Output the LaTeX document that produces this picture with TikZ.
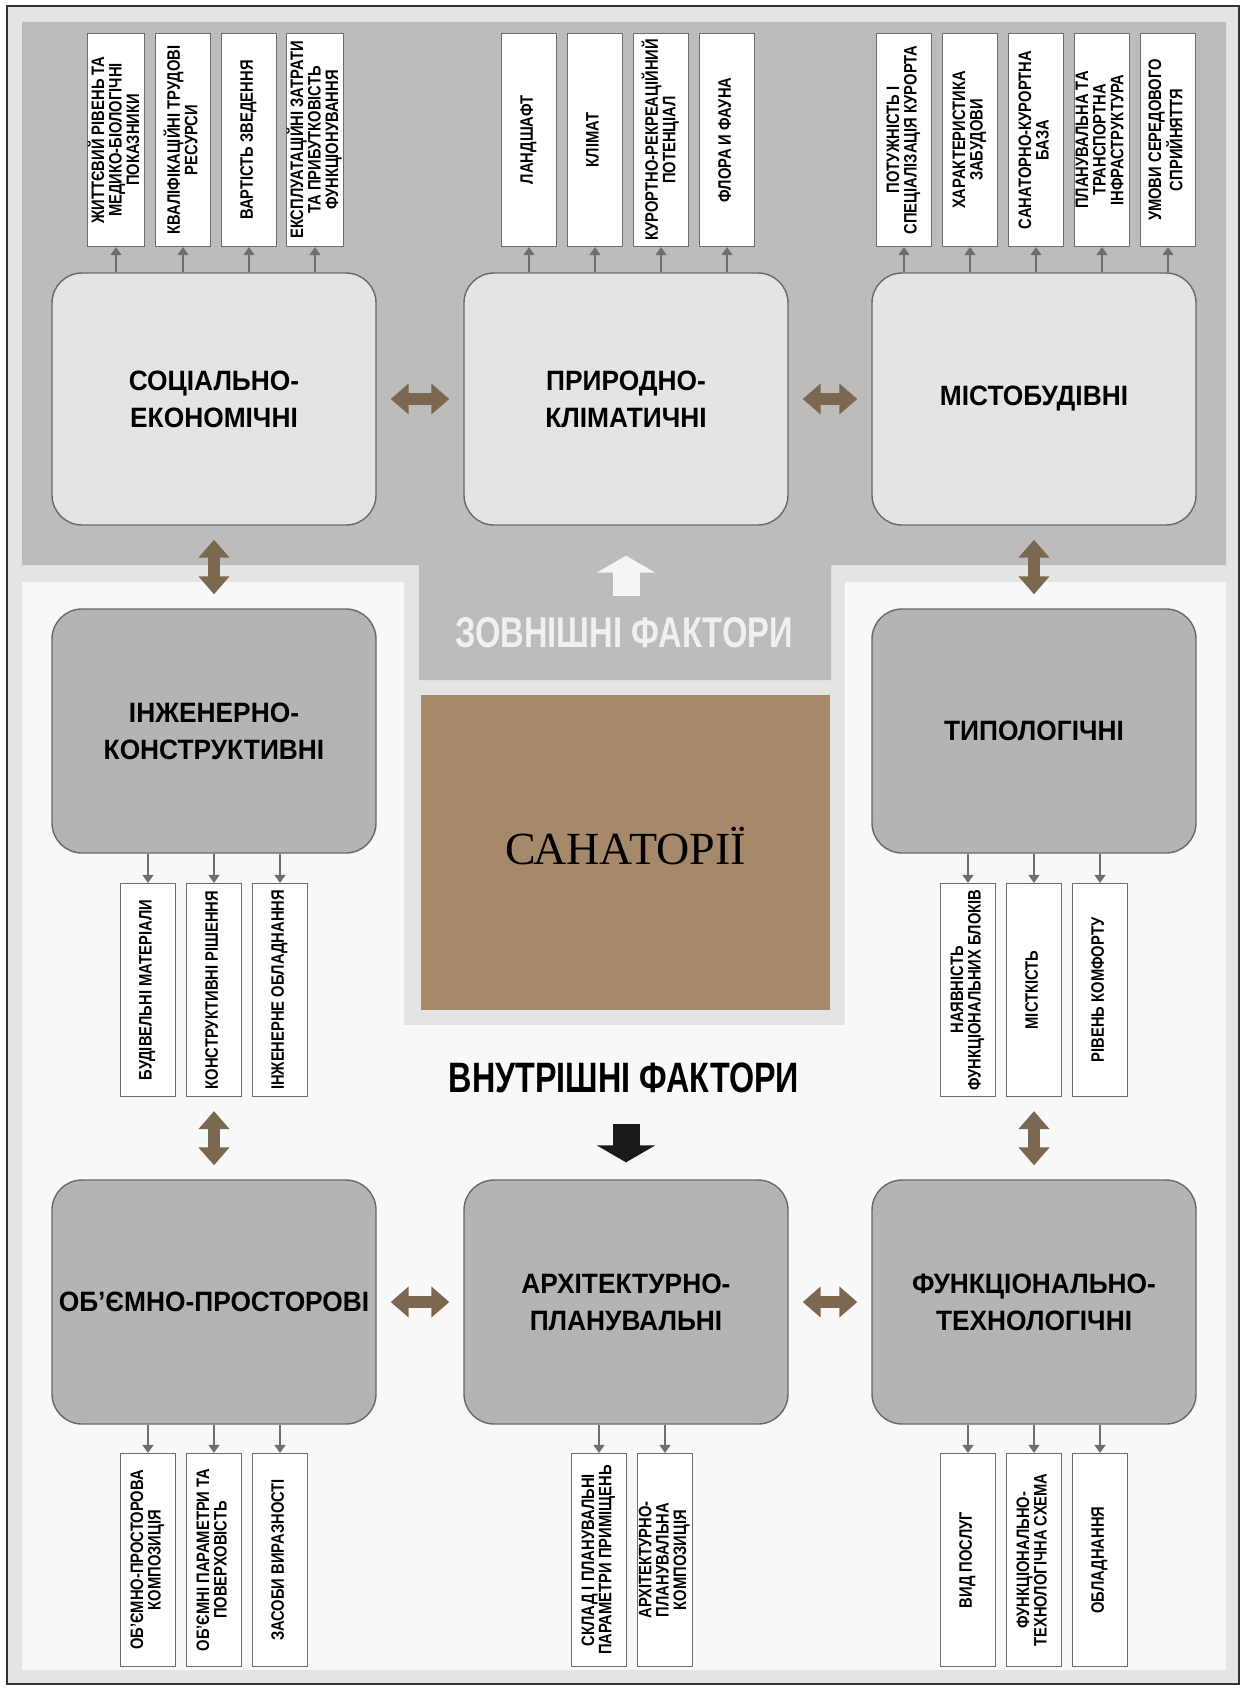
\documentclass[tikz,border=0pt]{standalone}
\usepackage{fontspec}
\usepackage{graphicx}
\usetikzlibrary{arrows.meta}
\setmainfont{Liberation Sans}
\newfontfamily\narrowfont[FakeStretch=0.82]{Liberation Sans}
\newfontfamily\boxfont[FakeStretch=0.94]{Liberation Sans}
\newfontfamily\headfont[FakeStretch=0.76]{Liberation Sans}
\newfontfamily\seriffont{Liberation Serif}
\definecolor{framegray}{RGB}{227,228,228}
\definecolor{extgray}{RGB}{189,188,186}
\definecolor{inwhite}{RGB}{248,248,248}
\definecolor{lightbox}{RGB}{227,228,228}
\definecolor{darkbox}{RGB}{180,180,180}
\definecolor{boxline}{RGB}{105,105,105}
\definecolor{sanbrown}{RGB}{166,136,106}
\definecolor{arrbrown}{RGB}{124,104,80}
\definecolor{arrgray}{RGB}{110,110,110}
\newcommand{\vtext}[1]{\rotatebox{90}{\begin{tabular}{@{}c@{}}#1\end{tabular}}}

\begin{document}
\begin{tikzpicture}[x=1pt,y=-1pt,
  bigbox/.style={draw=boxline,line width=1.4pt,rounded corners=30pt,minimum width=324pt,
    minimum height=252pt,inner sep=2pt,align=center,font=\boxfont\bfseries\fontsize{28}{37}\selectfont},
  extbox/.style={bigbox,fill=lightbox},
  intbox/.style={bigbox,fill=darkbox,minimum height=244pt},
  sbox/.style={draw=arrgray,line width=1.2pt,fill=white,minimum width=55pt,minimum height=213pt,
    inner sep=0pt,font=\narrowfont\bfseries\fontsize{18}{16.5}\selectfont},
  sarr/.style={draw=arrgray,line width=1.2pt,-{Triangle[width=11pt,length=8pt]}},
  dbl/.style={draw=arrbrown,line width=12pt,{Triangle[width=30pt,length=18pt]}-{Triangle[width=30pt,length=18pt]},
    shorten <=14pt,shorten >=14pt},
  factor/.style={font=\headfont\bfseries\fontsize{43}{43}\selectfont}]
  \useasboundingbox (0,0) rectangle (1247,1691);
  % fields
  \draw[fill=framegray,line width=1.6pt,draw=black!80] (7,6) rectangle (1239,1684);
  \fill[extgray] (22,22) -- (1226,22) -- (1226,565) -- (831,565) -- (831,680) -- (419,680) -- (419,565) -- (22,565) -- cycle;
  \fill[inwhite] (22,582) -- (404,582) -- (404,1025) -- (845,1025) -- (845,582) -- (1226,582) -- (1226,1670) -- (22,1670) -- cycle;
  \node[fill=sanbrown,minimum width=409pt,minimum height=315pt,text height=30pt,text depth=6pt,
    font=\seriffont\fontsize{46}{46}\selectfont] (san) at (625.5,852.5) {САНАТОРІЇ};

  \node[extbox] (soc) at (214,399) {СОЦІАЛЬНО-\\ЕКОНОМІЧНІ};
  \node[extbox] (prir) at (626,399) {ПРИРОДНО-\\КЛІМАТИЧНІ};
  \node[extbox] (mist) at (1034,399) {МІСТОБУДІВНІ};
  \node[intbox] (inzh) at (214,731) {ІНЖЕНЕРНО-\\КОНСТРУКТИВНІ};
  \node[intbox] (typ) at (1034,731) {ТИПОЛОГІЧНІ};
  \node[intbox] (obem) at (214,1302) {ОБ’ЄМНО-ПРОСТОРОВІ};
  \node[intbox] (arch) at (626,1302) {АРХІТЕКТУРНО-\\ПЛАНУВАЛЬНІ};
  \node[intbox] (func) at (1034,1302) {ФУНКЦІОНАЛЬНО-\\ТЕХНОЛОГІЧНІ};

  \node[factor,text=white!94!black] (ext) at (624,633) {ЗОВНІШНІ ФАКТОРИ};
  \node[factor,font=\headfont\bfseries\fontsize{42.5}{43}\selectfont] (int) at (624,1078) {ВНУТРІШНІ ФАКТОРИ};
  \draw[white!96!black,line width=27pt,-{Triangle[width=58pt,length=17pt]},shorten <=18pt,shorten >=30pt]
    (ext.north -| prir.south) -- (prir.south);
  \draw[black!90,line width=27pt,-{Triangle[width=58pt,length=17pt]},shorten <=27pt,shorten >=17pt]
    (int.south -| arch.north) -- (arch.north);

  % small boxes
  \foreach \x/\t [count=\i] in {116/{ЖИТТЄВИЙ РІВЕНЬ ТА\\МЕДИКО-БІОЛОГІЧНІ\\ПОКАЗНИКИ},
      183/{КВАЛІФІКАЦІЙНІ ТРУДОВІ\\РЕСУРСИ},249/{ВАРТІСТЬ ЗВЕДЕННЯ},
      315/{ЕКСПЛУАТАЦІЙНІ ЗАТРАТИ\\ТА ПРИБУТКОВІСТЬ\\ФУНКЦІОНУВАННЯ}}{
    \node[sbox] (soc\i) at (\x,140) {\vtext{\t}};
    \draw[sarr] (soc\i.south |- soc.north) -- (soc\i.south);
  }
  \foreach \x/\t [count=\i] in {529/{ЛАНДШАФТ},595/{КЛІМАТ},661/{КУРОРТНО-РЕКРЕАЦІЙНИЙ\\ПОТЕНЦІАЛ},727/{ФЛОРА И ФАУНА}}{
    \node[sbox] (prir\i) at (\x,140) {\vtext{\t}};
    \draw[sarr] (prir\i.south |- prir.north) -- (prir\i.south);
  }
  \foreach \x/\t [count=\i] in {904/{ПОТУЖНІСТЬ І\\СПЕЦІАЛІЗАЦІЯ КУРОРТА},970/{ХАРАКТЕРИСТИКА\\ЗАБУДОВИ},
      1036/{САНАТОРНО-КУРОРТНА\\БАЗА},1102/{ПЛАНУВАЛЬНА ТА\\ТРАНСПОРТНА\\ІНФРАСТРУКТУРА},
      1168/{УМОВИ СЕРЕДОВОГО\\СПРИЙНЯТТЯ}}{
    \node[sbox] (mist\i) at (\x,140) {\vtext{\t}};
    \draw[sarr] (mist\i.south |- mist.north) -- (mist\i.south);
  }
  \foreach \x/\t [count=\i] in {148/{БУДІВЕЛЬНІ МАТЕРІАЛИ},214/{КОНСТРУКТИВНІ РІШЕННЯ},280/{ІНЖЕНЕРНЕ ОБЛАДНАННЯ}}{
    \node[sbox] (inzh\i) at (\x,990) {\vtext{\t}};
    \draw[sarr] (inzh\i.north |- inzh.south) -- (inzh\i.north);
  }
  \foreach \x/\t [count=\i] in {968/{НАЯВНІСТЬ\\ФУНКЦІОНАЛЬНИХ БЛОКІВ},1034/{МІСТКІСТЬ},1100/{РІВЕНЬ КОМФОРТУ}}{
    \node[sbox] (typ\i) at (\x,990) {\vtext{\t}};
    \draw[sarr] (typ\i.north |- typ.south) -- (typ\i.north);
  }
  \foreach \x/\t [count=\i] in {148/{ОБ’ЄМНО-ПРОСТОРОВА\\КОМПОЗИЦІЯ},214/{ОБ’ЄМНІ ПАРАМЕТРИ ТА\\ПОВЕРХОВІСТЬ},280/{ЗАСОБИ ВИРАЗНОСТІ}}{
    \node[sbox] (obem\i) at (\x,1560) {\vtext{\t}};
    \draw[sarr] (obem\i.north |- obem.south) -- (obem\i.north);
  }
  \foreach \x/\t [count=\i] in {599/{СКЛАД І ПЛАНУВАЛЬНІ\\ПАРАМЕТРИ ПРИМІЩЕНЬ},665/{АРХІТЕКТУРНО-\\ПЛАНУВАЛЬНА\\КОМПОЗИЦІЯ}}{
    \node[sbox] (arch\i) at (\x,1560) {\vtext{\t}};
    \draw[sarr] (arch\i.north |- arch.south) -- (arch\i.north);
  }
  \foreach \x/\t [count=\i] in {968/{ВИД ПОСЛУГ},1034/{ФУНКЦІОНАЛЬНО-\\ТЕХНОЛОГІЧНА СХЕМА},1100/{ОБЛАДНАННЯ}}{
    \node[sbox] (func\i) at (\x,1560) {\vtext{\t}};
    \draw[sarr] (func\i.north |- func.south) -- (func\i.north);
  }

  % links between factor groups
  \draw[dbl] (soc) -- (prir);
  \draw[dbl] (prir) -- (mist);
  \draw[dbl] (soc) -- (inzh);
  \draw[dbl] (mist) -- (typ);
  \draw[dbl] (inzh2) -- (obem);
  \draw[dbl] (typ2) -- (func);
  \draw[dbl] (obem) -- (arch);
  \draw[dbl] (arch) -- (func);
\end{tikzpicture}
\end{document}
